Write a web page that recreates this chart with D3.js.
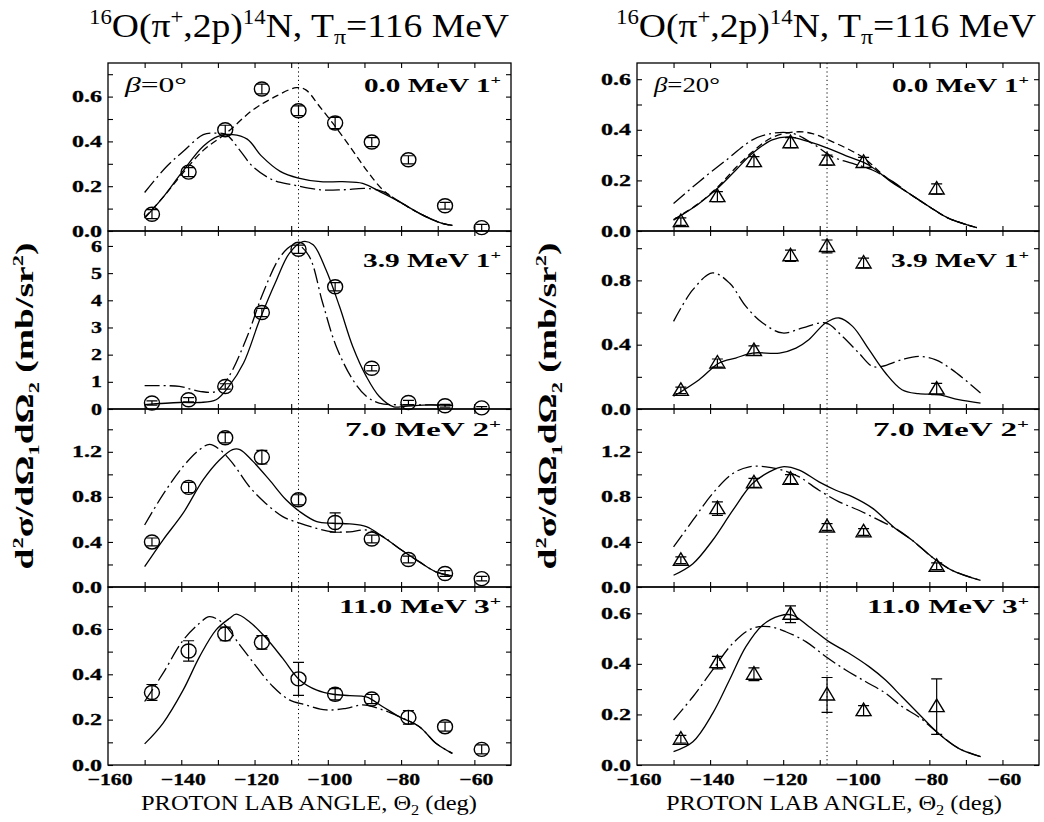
<!DOCTYPE html>
<html><head><meta charset="utf-8">
<script src="https://cdn.jsdelivr.net/npm/d3@7"></script>
<style>body{margin:0;background:#fff} svg{display:block} text{fill:#000}</style>
</head><body><svg id="c" width="1044" height="822"></svg>
<script>
// ---------------- data ----------------
const anglesL = [-148,-138,-128,-118,-108,-98,-88,-78,-68,-58];
const anglesR = [-148,-138,-128,-118,-108,-98,-78];
const energies = ["0.0","3.9","7.0","11.0"];
const spins = ["1","1","2","3"];
const betas = ["0°","20°"];
const xTicks = [-150,-140,-130,-120,-110,-100,-90,-80,-70,-60];
const xTickLabels = [-160,-140,-120,-100,-80,-60];
const refAngle = -108;

const yMaxL = [0.75, 6.55, 1.58, 0.785];
const yMaxR = [0.664, 1.107, 1.58, 0.704];
const majorL = [[0,0.2,0.4,0.6],[0,1,2,3,4,5,6],[0,0.4,0.8,1.2],[0,0.2,0.4,0.6]];
const minorL = [[0.1,0.3,0.5,0.7],[],[0.2,0.6,1.0,1.4],[0.1,0.3,0.5,0.7]];
const majorR = [[0,0.2,0.4,0.6],[0,0.4,0.8],[0,0.4,0.8,1.2],[0,0.2,0.4,0.6]];
const minorR = [[0.1,0.3,0.5],[0.2,0.6,1.0],[0.2,0.6,1.0,1.4],[0.1,0.3,0.5]];
const fmtL = [".1f","d",".1f",".1f"];
const fmtR = [".1f",".1f",".1f",".1f"];

// beta = 0 deg (circles)
const valL0 = [0.075,0.263,0.452,0.634,0.537,0.482,0.397,0.318,0.113,0.015];
const errL0 = [0.02,0.02,0.02,0.022,0.022,0.025,0.02,0.018,0.015,0.015];
const valL1 = [0.22,0.34,0.83,3.55,5.88,4.5,1.5,0.24,0.12,0.04];
const errL1 = [0.08,0.08,0.1,0.15,0.15,0.15,0.1,0.08,0.05,0.05];
const valL2 = [0.40,0.884,1.325,1.152,0.774,0.572,0.426,0.244,0.12,0.074];
const errL2 = [0.035,0.045,0.045,0.06,0.045,0.086,0.035,0.03,0.025,0.02];
const valL3 = [0.32,0.503,0.578,0.541,0.38,0.312,0.291,0.21,0.169,0.069];
const errL3 = [0.035,0.045,0.03,0.03,0.073,0.025,0.02,0.03,0.02,0.02];

// beta = 20 deg (triangles)
const valR0 = [0.037,0.136,0.274,0.349,0.28,0.271,0.166];
const errR0 = [0.015,0.02,0.02,0.02,0.02,0.02,0.02];
const valR1 = [0.116,0.286,0.363,0.953,1.011,0.908,0.124];
const errR1 = [0.02,0.025,0.03,0.035,0.04,0.03,0.035];
const valR2 = [0.237,0.696,0.924,0.957,0.533,0.489,0.184];
const errR2 = [0.03,0.06,0.04,0.04,0.03,0.03,0.03];
const valR3 = [0.102,0.405,0.359,0.596,0.277,0.215,0.231];
const errR3 = [0.015,0.025,0.025,0.033,0.069,0.02,0.11];

// theory curves [angle, value]
const solidL0 = [[-150,0.057],[-145,0.15],[-140,0.258],[-134,0.378],[-130,0.422],[-126,0.43],[-122,0.41],[-118,0.333],[-113,0.266],[-108,0.236],[-102,0.22],[-96,0.22],[-90.5,0.213],[-85,0.169],[-80.5,0.131],[-75,0.079],[-69,0.035],[-66,0.025]];
const dashL0 = [[-150,0.06],[-145,0.15],[-140,0.25],[-134,0.36],[-127.7,0.437],[-120.5,0.54],[-115,0.594],[-108.6,0.64],[-106,0.63],[-102.3,0.557],[-98.6,0.48],[-94,0.378],[-89.5,0.273],[-85,0.184],[-80.5,0.131],[-75,0.079],[-69,0.035],[-66,0.025]];
const dashdotL0 = [[-150,0.172],[-144,0.288],[-139.5,0.355],[-134,0.43],[-131,0.437],[-127.7,0.43],[-124,0.36],[-120.5,0.288],[-115,0.228],[-109.5,0.206],[-102,0.184],[-96,0.184],[-89.5,0.19],[-85,0.176],[-80.5,0.131],[-75,0.079],[-69,0.035],[-66,0.025]];

const solidL1 = [[-150,0.16],[-140.5,0.24],[-135,0.24],[-130.5,0.34],[-127,0.83],[-123,1.69],[-118.6,3.28],[-114,4.75],[-110.5,5.73],[-106.8,6.16],[-104,6.04],[-100.5,5.12],[-96.8,3.77],[-93.2,2.3],[-89.5,1.2],[-86,0.47],[-82,0.08],[-79,0.1],[-72,0.15],[-66,0.13]];
const dashdotL1 = [[-150,0.86],[-140.5,0.83],[-135,0.65],[-130.5,0.65],[-127,1.2],[-122,2.67],[-117.7,4.26],[-113,5.6],[-109.5,6.04],[-108,6.04],[-105,5.6],[-101.4,3.9],[-97.7,2.3],[-93.2,1.08],[-89.5,0.47],[-86,0.22],[-80,0.15],[-72,0.15],[-66,0.13]];

const solidL2 = [[-150,0.18],[-145,0.417],[-139.5,0.655],[-134,0.953],[-129.5,1.13],[-126,1.22],[-124,1.22],[-120.5,1.117],[-116,0.953],[-111.4,0.774],[-107.7,0.67],[-103,0.58],[-98.6,0.566],[-94,0.56],[-89.5,0.536],[-85,0.447],[-80.5,0.342],[-75,0.223],[-70.5,0.134],[-66,0.098]];
const dashdotL2 = [[-150,0.55],[-145,0.82],[-139.5,1.07],[-135,1.22],[-132.3,1.266],[-129.5,1.22],[-126,1.10],[-121.4,0.89],[-117,0.744],[-112.3,0.625],[-107.7,0.566],[-103,0.52],[-98.6,0.49],[-94,0.49],[-89.5,0.506],[-85,0.447],[-80.5,0.342],[-75,0.223],[-70.5,0.134],[-66,0.098]];

const solidL3 = [[-150,0.093],[-145,0.184],[-139.5,0.33],[-135,0.478],[-130.5,0.596],[-126.8,0.647],[-125,0.665],[-121.4,0.632],[-116.8,0.559],[-112.3,0.47],[-107.7,0.375],[-103,0.33],[-98.6,0.312],[-94,0.306],[-89.5,0.3],[-85,0.257],[-80.5,0.213],[-75,0.169],[-70.5,0.096],[-66,0.051]];
const dashdotL3 = [[-150,0.28],[-145,0.404],[-139.5,0.55],[-135,0.625],[-132.3,0.654],[-128.6,0.625],[-124,0.529],[-119.5,0.434],[-115,0.346],[-110.5,0.287],[-106,0.265],[-100.5,0.243],[-95,0.25],[-90.5,0.265],[-85,0.243],[-80.5,0.213],[-75,0.169],[-70.5,0.096],[-66,0.051]];

const solidR0 = [[-150,0.043],[-143,0.109],[-137.5,0.175],[-133,0.24],[-128.4,0.307],[-123,0.36],[-118.4,0.372],[-113,0.353],[-107.5,0.326],[-102,0.293],[-96.5,0.26],[-91,0.2],[-85.6,0.149],[-80,0.096],[-74.7,0.05],[-67,0.013]];
const dashR0 = [[-150,0.045],[-143,0.11],[-137.5,0.18],[-133,0.25],[-128.4,0.313],[-123,0.37],[-116.5,0.392],[-112,0.385],[-107.5,0.359],[-98.4,0.293],[-92,0.214],[-85.6,0.149],[-80,0.096],[-74.7,0.05],[-67,0.013]];
const dashdotR0 = [[-150,0.109],[-143,0.195],[-135.6,0.28],[-128.4,0.36],[-123,0.386],[-117.5,0.386],[-112,0.346],[-106.5,0.293],[-101,0.267],[-95.6,0.241],[-90,0.195],[-85.6,0.149],[-80,0.096],[-74.7,0.05],[-67,0.013]];

const solidR1 = [[-150,0.079],[-143,0.182],[-137.5,0.286],[-133,0.317],[-128.4,0.348],[-121,0.348],[-116.5,0.379],[-113,0.431],[-108.4,0.535],[-104.7,0.566],[-101,0.514],[-96.5,0.369],[-92,0.224],[-87.5,0.12],[-83,0.095],[-77.5,0.089],[-72,0.058],[-66,0.037]];
const dashdotR1 = [[-150,0.545],[-144.7,0.742],[-139.3,0.846],[-134.7,0.783],[-130.2,0.638],[-125.6,0.535],[-120.2,0.473],[-114.7,0.504],[-108.4,0.535],[-103.8,0.452],[-99.3,0.348],[-95.6,0.265],[-93,0.265],[-87.5,0.307],[-83,0.327],[-78.4,0.307],[-73.8,0.245],[-66,0.1]];

const solidR2 = [[-150,0.104],[-144.7,0.207],[-139.3,0.415],[-133.8,0.68],[-128.4,0.918],[-123.8,1.022],[-120.2,1.067],[-115.6,1.037],[-110.2,0.933],[-105.6,0.859],[-101,0.8],[-95.6,0.7],[-89.3,0.52],[-84.7,0.415],[-79.3,0.267],[-73.8,0.148],[-66,0.059]];
const dashdotR2 = [[-150,0.356],[-144.7,0.593],[-139.3,0.83],[-133.8,1.007],[-129.3,1.067],[-124.7,1.067],[-120.2,1.037],[-115.6,0.978],[-110.2,0.859],[-104.7,0.756],[-99.3,0.681],[-93.8,0.593],[-89.3,0.52],[-84.7,0.415],[-79.3,0.267],[-73.8,0.148],[-66,0.059]];

const solidR3 = [[-150,0.053],[-144.7,0.092],[-139.3,0.204],[-134.7,0.336],[-130.2,0.468],[-125.6,0.554],[-121,0.59],[-117.5,0.593],[-112.9,0.547],[-107.5,0.488],[-102,0.442],[-96.5,0.389],[-92,0.336],[-87.5,0.27],[-83,0.204],[-77.5,0.125],[-72,0.066],[-66,0.033]];
const dashdotR3 = [[-150,0.178],[-144.7,0.27],[-139.3,0.376],[-133.8,0.481],[-128.4,0.541],[-123.8,0.547],[-119.3,0.527],[-113.8,0.488],[-108.4,0.429],[-102.9,0.376],[-97.5,0.33],[-92,0.284],[-87.5,0.231],[-83,0.191],[-77.5,0.125],[-72,0.066],[-66,0.033]];

// ---------------- layout ----------------
const rows = [[63,231],[231,409],[409,587],[587,765]];
const labelDy = [29,36,27,26];
const labelW = [137,138,156,162];
const dashStyles = {solid:null, dash:"7,4", dashdot:"15,4,2,4"};

const cols = [
  {x0:108, x1:511, angles:anglesL, marker:"circle", yMax:yMaxL, major:majorL, minor:minorL, fmt:fmtL,
   vals:[valL0,valL1,valL2,valL3], errs:[errL0,errL1,errL2,errL3],
   curves:[[["solid",solidL0],["dash",dashL0],["dashdot",dashdotL0]],[["solid",solidL1],["dashdot",dashdotL1]],[["solid",solidL2],["dashdot",dashdotL2]],[["solid",solidL3],["dashdot",dashdotL3]]],
   beta:betas[0], betaW:62, ylabX:33, titleX:89, xlabC:309},
  {x0:637, x1:1039, angles:anglesR, marker:"triangle", yMax:yMaxR, major:majorR, minor:minorR, fmt:fmtR,
   vals:[valR0,valR1,valR2,valR3], errs:[errR0,errR1,errR2,errR3],
   curves:[[["solid",solidR0],["dash",dashR0],["dashdot",dashdotR0]],[["solid",solidR1],["dashdot",dashdotR1]],[["solid",solidR2],["dashdot",dashdotR2]],[["solid",solidR3],["dashdot",dashdotR3]]],
   beta:betas[1], betaW:66, ylabX:556, titleX:616, xlabC:834}
];

const svg = d3.select("#c");
const SERIF = "'Liberation Serif', 'Times New Roman', serif";
const charW = {"−":12, ".":8};  // widths of tick-label glyphs, px
const tickW = s => Array.from(s).reduce((a,ch) => a + (charW[ch] || 11), 0);

function rich(sel, parts){ // parts: [text, shift, size]
  let cur = 0;
  parts.forEach(([t, sh, sc]) => {
    const ts = sel.append("tspan").text(t);
    const d = (sh||0) - cur;
    if (d) ts.attr("dy", d);
    cur = sh||0;
    if (sc) ts.attr("font-size", sc);
  });
}
function tickText(sel){
  sel.attr("font-family",SERIF).attr("font-weight","bold").attr("font-size",16.5)
    .style("fill","#000").style("stroke","#000").style("stroke-width","0.3px")
    .attr("textLength", d => tickW(d.s)).attr("lengthAdjust","spacingAndGlyphs")
    .text(d => d.s);
}

cols.forEach(c => {
  const x = d3.scaleLinear().domain([-160,-50]).range([c.x0, c.x1]);

  // title
  const title = svg.append("text").attr("x", c.titleX).attr("y", 37)
    .attr("font-family",SERIF).attr("font-size", 33)
    .attr("textLength", 420).attr("lengthAdjust","spacingAndGlyphs");
  rich(title, [["16",-13,20],["O(π",0],["+",-13,20],[",2p)",0],["14",-13,20],["N,  T",0],["π",7,21],["=116  MeV",0]]);

  rows.forEach(([top,bot], i) => {
    const y = d3.scaleLinear().domain([0, c.yMax[i]]).range([bot, top]);
    const g = svg.append("g");

    // vertical dotted reference line
    g.append("line").attr("x1", x(refAngle)).attr("x2", x(refAngle)).attr("y1", top).attr("y2", bot)
      .attr("stroke","#000").attr("stroke-width",1).attr("stroke-dasharray","1.2,3");

    // tick marks (inward on all sides)
    const allY = c.major[i].concat(c.minor[i]);
    g.append("g").attr("transform",`translate(${c.x0},0)`)
      .call(d3.axisLeft(y).tickValues(allY).tickSize(-5).tickFormat(""));
    g.append("g").attr("transform",`translate(${c.x1},0)`)
      .call(d3.axisRight(y).tickValues(allY).tickSize(-5).tickFormat(""));
    g.append("g").attr("transform",`translate(0,${top})`)
      .call(d3.axisTop(x).tickValues(xTicks).tickSize(-5).tickFormat(""));
    g.append("g").attr("transform",`translate(0,${bot})`)
      .call(d3.axisBottom(x).tickValues(xTicks).tickSize(-5).tickFormat(""));
    g.selectAll(".domain").remove();
    g.selectAll(".tick line").attr("stroke","#000").attr("stroke-width",1.1);

    // y tick labels
    const fy = d3.format(c.fmt[i]);
    g.append("g").selectAll("text").data(c.major[i].map(v => ({v, s: fy(v)}))).join("text")
      .attr("x", c.x0 - 6).attr("y", d => y(d.v)).attr("dy","0.34em").attr("text-anchor","end")
      .call(tickText);
    // x tick labels
    if (i === rows.length-1) {
      const fx = d3.format("d");
      g.append("g").selectAll("text").data(xTickLabels.map(v => ({v, s: fx(v)}))).join("text")
        .attr("x", d => x(d.v) + 2).attr("y", bot + 20).attr("text-anchor","middle")
        .call(tickText);
    }

    // frame
    g.append("rect").attr("x",c.x0).attr("y",top).attr("width",c.x1-c.x0).attr("height",bot-top)
      .attr("fill","none").attr("stroke","#000").attr("stroke-width",1.3);

    // curves
    const line = d3.line().x(d=>x(d[0])).y(d=>y(d[1])).curve(d3.curveCatmullRom.alpha(0.5));
    c.curves[i].forEach(([style, data]) => {
      g.append("path").datum(data).attr("d", line).attr("fill","none").attr("stroke","#000")
        .attr("stroke-width",1.3).attr("stroke-dasharray", dashStyles[style]);
    });

    // data points
    const vals = c.vals[i], errs = c.errs[i];
    c.angles.forEach((a, k) => {
      const px = x(a), py = y(vals[k]);
      const ylo = y(vals[k]-errs[k]), yhi = y(vals[k]+errs[k]);
      g.append("path").attr("d",`M${px},${ylo}V${yhi}M${px-5.5},${ylo}H${px+5.5}M${px-5.5},${yhi}H${px+5.5}`)
        .attr("stroke","#000").attr("stroke-width",1.2).attr("fill","none");
      if (c.marker === "circle") {
        g.append("ellipse").attr("cx",px).attr("cy",py).attr("rx",7.5).attr("ry",7)
          .attr("fill","none").attr("stroke","#000").attr("stroke-width",1.4);
      } else {
        g.append("path").attr("d",`M${px},${py-7.5}L${px+7.5},${py+5}L${px-7.5},${py+5}Z`)
          .attr("fill","none").attr("stroke","#000").attr("stroke-width",1.4);
      }
    });

    // panel label
    const lab = g.append("text").attr("x", c.x1-10).attr("y", top+labelDy[i]).attr("text-anchor","end")
      .attr("font-family",SERIF).attr("font-weight","bold").attr("font-size",19)
      .attr("textLength", labelW[i]).attr("lengthAdjust","spacingAndGlyphs");
    lab.append("tspan").text(energies[i] + "  MeV  " + spins[i]);
    lab.append("tspan").attr("dy",-8).attr("font-size",12).text("+");
    if (i === 0) {
      const b = g.append("text").attr("x", c.x0+17).attr("y", top+29)
        .attr("font-family",SERIF).attr("font-size",21)
        .attr("textLength", c.betaW).attr("lengthAdjust","spacingAndGlyphs");
      b.append("tspan").attr("font-style","italic").text("β");
      b.append("tspan").text("="+c.beta);
    }
  });

  // y label
  const yl = svg.append("text").attr("transform",`translate(${c.ylabX},406) rotate(-90)`)
    .attr("text-anchor","middle").attr("font-family",SERIF).attr("font-weight","bold").attr("font-size",25)
    .attr("textLength", 327).attr("lengthAdjust","spacingAndGlyphs");
  rich(yl, [["d",0],["2",-10,15],["σ/dΩ",0],["1",6,15],["dΩ",0],["2",6,15],["  (mb/sr",0],["2",-10,15],[")",0]]);

  // x label
  const xl = svg.append("text").attr("x", c.xlabC).attr("y",810).attr("text-anchor","middle")
    .attr("font-family",SERIF).attr("font-size",21)
    .attr("textLength", 336).attr("lengthAdjust","spacingAndGlyphs");
  rich(xl, [["PROTON  LAB  ANGLE,  Θ",0],["2",5,14],["  (deg)",0]]);
});
</script>
</body></html>
